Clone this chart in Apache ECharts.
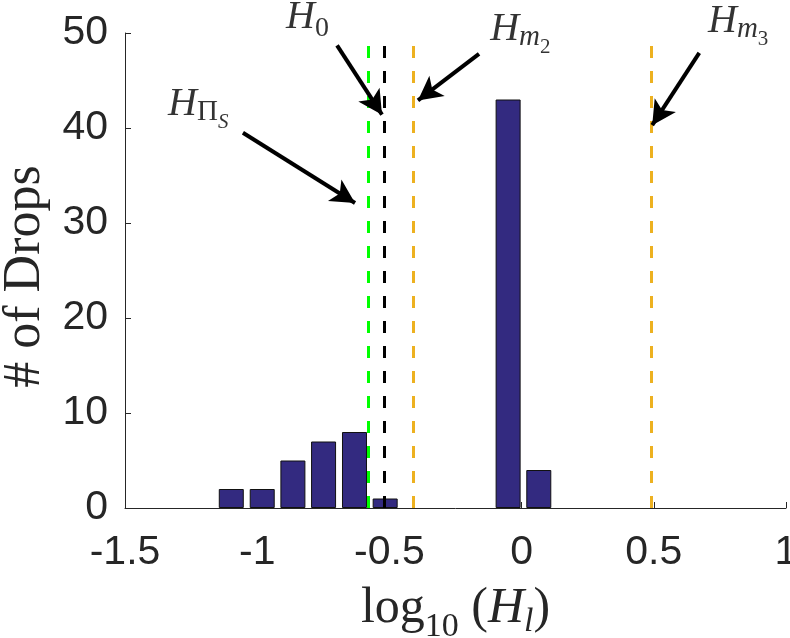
<!DOCTYPE html>
<html>
<head>
<meta charset="utf-8">
<script src="https://cdn.jsdelivr.net/npm/echarts@6/dist/echarts.min.js"></script>
<style>
  html, body { margin: 0; padding: 0; background: #fff; }
  #chart { width: 790px; height: 638px; }
</style>
</head>
<body>
<div id="chart"></div>
<script>
// histogram bins (log10 of H_l) and counts
const binCenters = [-1.098, -0.981, -0.865, -0.749, -0.632, -0.516, -0.400, -0.283, -0.167, -0.051, 0.065];
const dropCounts = [2, 2, 5, 7, 8, 1, 0, 0, 0, 43, 4];

// reference lines
const refValues = [-0.581, -0.524, -0.411, 0.486];
const refColors = ['#00ff00', '#000000', '#edb120', '#edb120'];

// annotations: label text, label anchor, arrow start, arrow end (data coords)
const annLabels = [
  '{H|H}{s2u|Π}{s3i|S}',
  '{H|H}{s1|0}',
  '{H|H}{s2i|m}{s3|2}',
  '{H|H}{s2i|m}{s3|3}'
];
const annAt = [[-1.337, 42.5], [-0.891, 51.6], [-0.119, 50.4], [0.705, 51.2]];
const arrowFrom = [[-1.054, 39.5], [-0.698, 48.7], [-0.161, 47.8], [0.672, 47.9]];
const arrowTo = [[-0.630, 32.1], [-0.528, 41.4], [-0.392, 42.9], [0.494, 40.3]];

const xTicks = { min: -1.5, max: 1, interval: 0.5 };
const yTicks = { min: 0, max: 50, interval: 10 };

const serif = 'Liberation Serif';
const sans = 'Liberation Sans';
const axisColor = '#262626';

// sub/superscripts: every token gets the same total height, the top padding
// decides how low the glyphs sit inside it
function tok(size, total, center, italic, color) {
  const top = Math.max(0, center - size / 2);
  return {
    fontFamily: serif,
    fontStyle: italic ? 'italic' : 'normal',
    fontSize: size,
    lineHeight: size,
    padding: [top, 0, total - size - top, 0],
    color: color
  };
}

const mathRich = {
  H: tok(40, 80, 20, true, '#000'),
  s1: tok(28, 80, 31, false, '#000'),
  s2i: tok(29, 80, 28, true, '#000'),
  s2u: tok(29, 80, 28, false, '#000'),
  s3: tok(21, 80, 38, false, '#000'),
  s3i: tok(21, 80, 38, true, '#000')
};

const chart = echarts.init(document.getElementById('chart'), null, { renderer: 'canvas' });

// empty bins draw nothing
const barData = [];
binCenters.forEach((x, i) => {
  if (dropCounts[i] > 0) barData.push([x, dropCounts[i]]);
});

const option = {
  animation: false,
  backgroundColor: '#fff',
  grid: { left: 125, right: 4, top: 33, bottom: 130, containLabel: false, outerBoundsMode: 'none' },
  xAxis: {
    type: 'value',
    min: xTicks.min, max: xTicks.max, interval: xTicks.interval,
    name: '{r|log}{s|10}{r| (}{h|H}{si|l}{r|)}',
    nameLocation: 'middle',
    nameGap: 96,
    nameTextStyle: {
      rich: {
        r: tok(50, 90, 25, false, '#262626'),
        h: tok(50, 90, 25, true, '#262626'),
        s: tok(34, 90, 43, false, '#262626'),
        si: tok(34, 90, 38, true, '#262626')
      }
    },
    axisLine: { onZero: false, lineStyle: { color: axisColor, width: 1 } },
    axisTick: { inside: true, length: 6, lineStyle: { color: axisColor } },
    axisLabel: { fontFamily: sans, fontSize: 41, color: axisColor, margin: 24, showMinLabel: true, showMaxLabel: true, hideOverlap: false },
    splitLine: { show: false }
  },
  yAxis: {
    type: 'value',
    min: yTicks.min, max: yTicks.max, interval: yTicks.interval,
    name: '# of Drops',
    nameLocation: 'middle',
    nameGap: 74,
    nameTextStyle: { fontFamily: serif, fontSize: 52, color: '#262626', padding: [0, 12, 0, 0] },
    axisLine: { show: true, onZero: false, lineStyle: { color: axisColor, width: 1 } },
    axisTick: { show: true, inside: true, length: 6, lineStyle: { color: axisColor } },
    axisLabel: { fontFamily: sans, fontSize: 41, color: axisColor, margin: 17 },
    splitLine: { show: false }
  },
  series: [
    {
      name: 'Drops',
      type: 'bar',
      data: barData,
      barWidth: 25,
      itemStyle: { color: '#332a80', borderColor: '#111', borderWidth: 1 },
      markLine: {
        silent: true,
        symbol: ['none', 'none'],
        label: { show: false },
        data: refValues.map((v, i) => ({
          xAxis: v,
          lineStyle: { color: refColors[i], width: 3, type: [12, 13], opacity: 1 }
        }))
      }
    },
    {
      name: 'annotations',
      type: 'scatter',
      clip: false,
      symbolSize: 0,
      silent: true,
      data: annAt.map((p, i) => ({ value: p, label: { formatter: annLabels[i] } })),
      label: {
        show: true,
        position: 'inside',
        align: 'left',
        verticalAlign: 'top',
        rich: mathRich
      },
      markLine: {
        silent: true,
        symbol: ['none', 'arrow'],
        symbolSize: [19, 24],
        label: { show: false },
        lineStyle: { color: '#000', width: 4, type: 'solid', opacity: 1 },
        data: arrowFrom.map((p, i) => [{ coord: p }, { coord: arrowTo[i] }])
      }
    }
  ]
};

chart.setOption(option);
</script>
</body>
</html>
